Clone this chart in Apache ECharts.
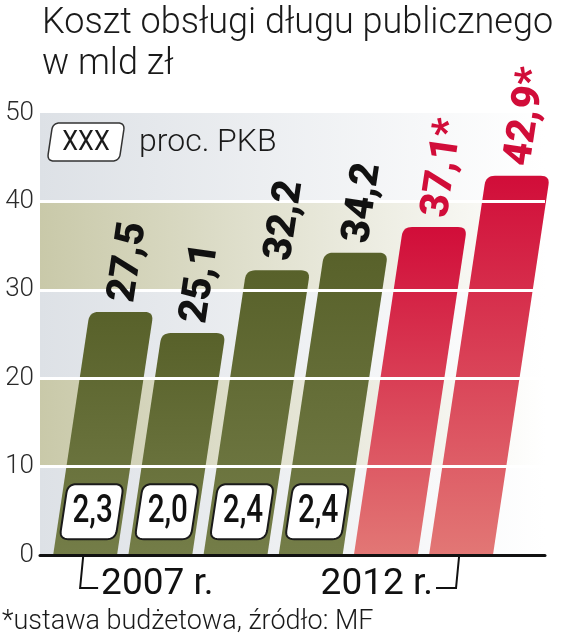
<!DOCTYPE html>
<html><head><meta charset="utf-8">
<script src="https://cdn.jsdelivr.net/npm/echarts@6/dist/echarts.min.js"></script>
<style>html,body{margin:0;padding:0;background:#fff}#c{width:566px;height:640px}</style>
</head><body><div id="c"></div>
<script>
// ---- data ----
const categories = ['2007', '2008', '2009', '2010', '2011', '2012'];
const values = [27.5, 25.1, 32.2, 34.2, 37.1, 42.9];
const valueLabels = ['27,5', '25,1', '32,2', '34,2', '37,1*', '42,9*'];
const pkbLabels = ['2,3', '2,0', '2,4', '2,4', '', ''];
const isPlan = [false, false, false, false, true, true];
const yTicks = [0, 10, 20, 30, 40, 50];
const bandLows = [0, 10, 20, 30, 40];
const yearIndex = [0, 5];
const yearLabels = ['2007 r.', '2012 r.'];
const titleLines = ['Koszt obsługi długu publicznego', 'w mld zł'];
const legendBox = 'XXX';
const legendText = 'proc. PKB';
const footnote = '*ustawa budżetowa, źródło: MF';

// ---- style constants ----
const SKEW = 0.15;
const BAR_W = 0.85;
const BOX_LEVEL = 4.9;
const ROT = Math.atan(1 / SKEW);
const GREEN = ['#58612a', '#747d48'];
const RED = ['#d10d39', '#e27775'];
const BANDS = ['#dde1e6', '#c9c9a9'];

function unit(A, P) {
  const dx = A[0] - P[0], dy = A[1] - P[1];
  const l = Math.sqrt(dx * dx + dy * dy) || 1;
  return [dx / l, dy / l];
}
// polygon points with rounded corners (quadratic sampled)
function roundPts(pts, radii) {
  const out = [];
  const n = pts.length;
  for (let j = 0; j < n; j++) {
    const P = pts[j], A = pts[(j - 1 + n) % n], B = pts[(j + 1) % n], r = radii[j];
    if (!r) { out.push(P); continue; }
    const ua = unit(A, P), ub = unit(B, P);
    const p1 = [P[0] + ua[0] * r, P[1] + ua[1] * r];
    const p2 = [P[0] + ub[0] * r, P[1] + ub[1] * r];
    for (let s = 0; s <= 8; s++) {
      const t = s / 8, u = 1 - t;
      out.push([u * u * p1[0] + 2 * u * t * P[0] + t * t * p2[0], u * u * p1[1] + 2 * u * t * P[1] + t * t * p2[1]]);
    }
  }
  return out;
}
function skewBox(cx, cy, w, h, r) {
  const s = SKEW * h / 2;
  return roundPts([
    [cx - w / 2 + s, cy - h / 2], [cx + w / 2 + s, cy - h / 2],
    [cx + w / 2 - s, cy + h / 2], [cx - w / 2 - s, cy + h / 2]
  ], [r, r, r, r]);
}

const barData = values.map((v, i) => [i, v]);

function renderBar(params, api) {
  const i = api.value(0), v = api.value(1);
  const base = api.coord([i, 0]);
  const top = api.coord([i, v]);
  const w = api.size([BAR_W, 0])[0];
  const h = base[1] - top[1];
  const bl = [base[0] - w / 2, base[1]], br = [base[0] + w / 2, base[1]];
  const tl = [bl[0] + SKEW * h, top[1]], tr = [br[0] + SKEW * h, top[1]];
  const c = isPlan[i] ? RED : GREEN;
  return {
    type: 'polygon',
    shape: { points: roundPts([bl, tl, tr, br], [0, 9, 9, 0]) },
    style: { fill: new echarts.graphic.LinearGradient(0, 0, 0, 1, [{ offset: 0, color: c[0] }, { offset: 1, color: c[1] }]) }
  };
}

function renderLabel(params, api) {
  const i = api.value(0), v = api.value(1);
  const base = api.coord([i, 0]);
  const top = api.coord([i, v]);
  const h = base[1] - top[1];
  const tcx = base[0] + SKEW * h;
  const gap = 10;
  const children = [{
    type: 'text',
    x: tcx + SKEW * gap, y: top[1] - gap,
    rotation: ROT,
    style: {
      text: valueLabels[i], fill: isPlan[i] ? '#d10d39' : '#111',
      font: '900 40px Roboto', align: 'left', verticalAlign: 'middle'
    }
  }];
  if (pkbLabels[i]) {
    const bp = api.coord([i, BOX_LEVEL]);
    const bx = base[0] + SKEW * (base[1] - bp[1]);
    children.push({
      type: 'polygon',
      shape: { points: skewBox(bx, bp[1], 56, 55, 9) },
      style: { fill: '#fff', stroke: '#1a1a1a', lineWidth: 2 }
    });
    children.push({
      type: 'text', x: bx + 1, y: bp[1] + 1, scaleX: 0.78,
      style: { text: pkbLabels[i], fill: '#111', font: '500 38px Roboto', align: 'center', verticalAlign: 'middle' }
    });
  }
  return { type: 'group', children };
}

function renderBand(params, api) {
  const lo = api.value(1);
  const cs = params.coordSys;
  const y1 = api.coord([0, lo])[1];
  const y2 = api.coord([0, lo + 10])[1];
  const col = BANDS[params.dataIndex % 2];
  return {
    type: 'rect',
    shape: { x: cs.x, y: y2, width: cs.width, height: y1 - y2 },
    style: { fill: new echarts.graphic.LinearGradient(0, 0, 1, 0, [{ offset: 0, color: col }, { offset: 1, color: '#ffffff' }]) }
  };
}

function renderYear(params, api) {
  const k = params.dataIndex;
  const i = api.value(0);
  const p = api.coord([i, 0]);
  const x0 = p[0] - 2, y0 = p[1] + 2, x1 = x0 - 3, y1 = p[1] + 33;
  const left = k === 0;
  const x2 = left ? x1 + 18 : x1 - 20;
  return {
    type: 'group',
    children: [
      { type: 'polyline', shape: { points: [[x0, y0], [x1, y1], [x2, y1]] }, style: { stroke: '#111', lineWidth: 2, fill: null } },
      { type: 'text', x: left ? x2 + 3 : x2 - 3, y: y1 - 3,
        style: { text: yearLabels[k], fill: '#111', font: '400 37px Roboto', align: left ? 'left' : 'right', verticalAlign: 'middle' } }
    ]
  };
}

const chart = echarts.init(document.getElementById('c'), null, { renderer: 'canvas' });
chart.setOption({
  animation: false,
  backgroundColor: '#ffffff',
  grid: { left: 40, right: 21, top: 113, bottom: 85 },
  xAxis: {
    type: 'value', min: -0.6, max: 6.117, z: 10,
    axisLine: { show: true, onZero: true, lineStyle: { color: '#111', width: 3 } },
    axisTick: { show: false }, axisLabel: { show: false }, splitLine: { show: false }
  },
  yAxis: {
    type: 'value', min: yTicks[0], max: yTicks[yTicks.length - 1], interval: 10, z: 5,
    axisLine: { show: false }, axisTick: { show: false },
    axisLabel: { color: '#2a2a2a', fontFamily: 'Roboto', fontWeight: 300, fontSize: 26, margin: 6 },
    splitLine: { show: true, showMinLine: false, showMaxLine: false, lineStyle: { color: '#ffffff', width: 3 } }
  },
  graphic: [
    { type: 'text', x: 42, y: 6, style: { text: titleLines[0], fill: '#1a1a1a', font: '300 36px Roboto', verticalAlign: 'top' } },
    { type: 'text', x: 42, y: 47, style: { text: titleLines[1], fill: '#1a1a1a', font: '300 36px Roboto', verticalAlign: 'top' } },
    { type: 'polygon', z: 30, shape: { points: skewBox(86, 142, 72, 38, 7) }, style: { fill: '#fff', stroke: '#333', lineWidth: 1.5 } },
    { type: 'text', x: 86, y: 143, scaleX: 0.9, z: 31, style: { text: legendBox, fill: '#1a1a1a', font: '400 28px Roboto', align: 'center', verticalAlign: 'middle' } },
    { type: 'text', x: 139, y: 143, z: 31, style: { text: legendText, fill: '#1a1a1a', font: '300 32px Roboto', align: 'left', verticalAlign: 'middle' } },
    { type: 'text', x: 2, y: 609, style: { text: footnote, fill: '#1a1a1a', font: '300 27px Roboto', verticalAlign: 'top' } }
  ],
  series: [
    { type: 'custom', z: 1, data: bandLows.map(v => [0, v]), renderItem: renderBand, encode: { x: 0, y: 1 }, silent: true },
    { type: 'custom', z: 2, data: barData, renderItem: renderBar, encode: { x: 0, y: 1 } },
    { type: 'custom', z: 20, data: barData, renderItem: renderLabel, encode: { x: 0, y: 1 }, clip: false },
    { type: 'custom', z: 20, data: yearIndex.map(i => [i, 0]), renderItem: renderYear, encode: { x: 0, y: 1 }, clip: false }
  ]
});
</script>
</body></html>
